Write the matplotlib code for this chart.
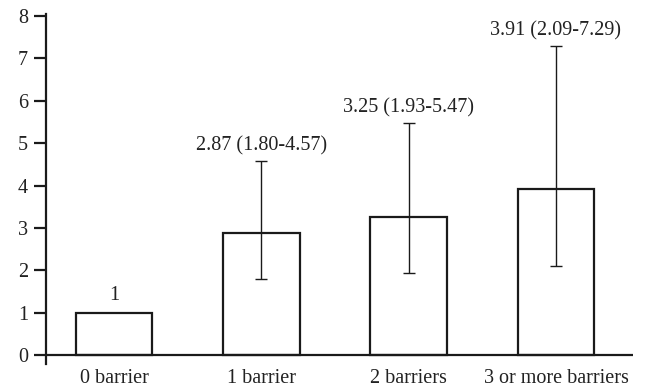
import matplotlib.pyplot as plt

categories = ["0 barrier", "1 barrier", "2 barriers", "3 or more barriers"]
odds = [1.0, 2.87, 3.25, 3.91]
ci_low = [None, 1.80, 1.93, 2.09]
ci_high = [None, 4.57, 5.47, 7.29]
labels = ["1", "2.87 (1.80-4.57)", "3.25 (1.93-5.47)", "3.91 (2.09-7.29)"]

plt.rcParams["font.family"] = ["Liberation Serif", "DejaVu Serif"]

fig = plt.figure(figsize=(6.49, 3.89), dpi=100)
ax = fig.add_axes([46 / 649, 25.5 / 389, (633 - 46) / 649, (375.1 - 25.5) / 389])

x = list(range(len(categories)))
ax.bar(x, odds, width=0.52, color="white", edgecolor="#1a1a1a", linewidth=1.6, zorder=2)

for i in x:
    if ci_low[i] is None:
        continue
    ax.errorbar(i, odds[i], yerr=[[odds[i] - ci_low[i]], [ci_high[i] - odds[i]]],
                fmt="none", ecolor="#1a1a1a", elinewidth=1.0, capsize=4.5, capthick=1.0, zorder=3)

for i in x:
    top = ci_high[i] if ci_high[i] is not None else odds[i]
    off = 0.25 if ci_high[i] is not None else 0.3
    ax.text(i, top + off, labels[i], ha="center", va="baseline", fontsize=14.5, color="#222222")

ax.axhline(0, color="#1a1a1a", linewidth=1.6, zorder=4)
ax.set_xlim(-0.462, 3.523)
ax.set_ylim(-0.2, 8.05)
ax.set_yticks(range(0, 9))
ax.set_xticks(x)
ax.set_xticklabels(categories)

for side in ["top", "right", "bottom"]:
    ax.spines[side].set_visible(False)
ax.spines["left"].set_linewidth(1.6)
ax.spines["left"].set_color("#1a1a1a")
ax.tick_params(axis="y", direction="out", length=9, width=1.6, labelsize=14.5, pad=4,
               color="#1a1a1a", labelcolor="#222222")
ax.tick_params(axis="x", length=0, labelsize=14.5, pad=4, labelcolor="#222222")

fig.savefig("out.png", dpi=100)
